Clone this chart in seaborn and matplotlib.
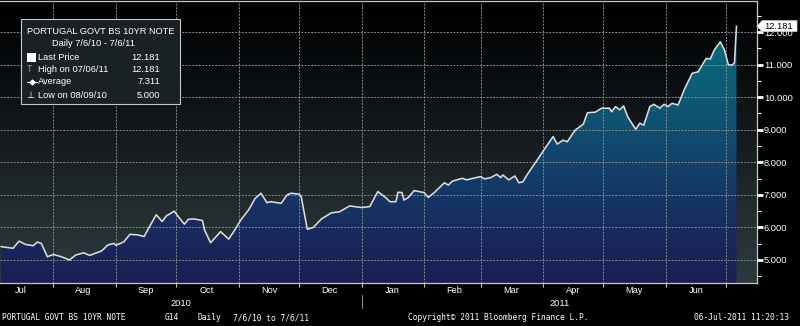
import numpy as np
import pandas as pd
import matplotlib
matplotlib.use("Agg")
import matplotlib.pyplot as plt
import matplotlib.transforms as mtransforms
from matplotlib.colors import LinearSegmentedColormap
from matplotlib.patches import Polygon, Rectangle
from matplotlib.lines import Line2D
import seaborn as sns

# ---- data -------------------------------------------------------------
start_date = "2010-07-06"
day_offset = [0, 6, 9, 12, 16, 18, 20, 23, 26, 30,
              34, 37, 41, 44, 50, 53, 56, 57, 61, 64,
              68, 71, 77, 80, 82, 86, 88, 91, 93, 96,
              100, 101, 104, 109, 113, 116, 119, 123, 126, 129,
              132, 134, 139, 142, 144, 148, 149, 152, 155, 159,
              164, 168, 173, 179, 183, 187, 191, 193, 196, 197,
              199, 200, 202, 205, 210, 212, 215, 220, 222, 224,
              229, 231, 238, 240, 243, 246, 248, 249, 252, 255,
              257, 259, 261, 265, 270, 274, 276, 279, 281, 285,
              289, 291, 295, 298, 302, 303, 305, 307, 309, 311,
              315, 317, 319, 322, 324, 327, 329, 331, 333, 336,
              339, 343, 346, 348, 350, 352, 354, 357, 359, 361,
              363, 364, 365]
yield_pct = [5.41, 5.36, 5.58, 5.48, 5.44, 5.55, 5.51, 5.10, 5.17, 5.10,
             5.00, 5.15, 5.22, 5.14, 5.28, 5.46, 5.51, 5.45, 5.56, 5.79,
             5.77, 5.72, 6.39, 6.18, 6.35, 6.50, 6.33, 6.10, 6.25, 6.26,
             6.21, 5.92, 5.53, 5.87, 5.64, 5.92, 6.23, 6.55, 6.88, 7.05,
             6.76, 6.79, 6.74, 7.00, 7.05, 7.02, 6.94, 5.94, 6.00, 6.26,
             6.45, 6.48, 6.66, 6.61, 6.64, 7.10, 6.91, 6.79, 6.79, 7.08,
             7.07, 6.84, 6.91, 7.13, 7.07, 6.92, 7.07, 7.37, 7.30, 7.42,
             7.51, 7.46, 7.56, 7.49, 7.53, 7.63, 7.53, 7.61, 7.46, 7.58,
             7.37, 7.40, 7.61, 7.97, 8.43, 8.79, 8.56, 8.68, 8.63, 8.99,
             9.17, 9.52, 9.54, 9.66, 9.66, 9.55, 9.71, 9.61, 9.73, 9.40,
             9.01, 9.20, 9.14, 9.71, 9.78, 9.66, 9.78, 9.71, 9.81, 9.76,
             10.22, 10.73, 10.78, 10.99, 11.19, 11.17, 11.45, 11.70, 11.45, 10.99,
             10.99, 11.06, 12.181]
month_labels = ["Jul", "Aug", "Sep", "Oct", "Nov", "Dec",
                "Jan", "Feb", "Mar", "Apr", "May", "Jun"]
year_labels = ["2010", "2011"]
y_ticks = [5, 6, 7, 8, 9, 10, 11, 12]
security = "PORTUGAL GOVT BS 10YR NOTE"
average_value = 7.311

# ---- styling ----------------------------------------------------------
sns.set_theme(style="dark")
plt.rcParams["font.family"] = ["Liberation Sans", "DejaVu Sans"]
FS = 6.7
MONO = ["DejaVu Sans Mono"]

dates = pd.Timestamp(start_date) + pd.to_timedelta(day_offset, unit="D")
df = pd.DataFrame({"date": dates, "yield": yield_pct})

W, H = 800, 326
fig = plt.figure(figsize=(W / 100, H / 100), dpi=100, facecolor="black")
ax = fig.add_axes([0, 43 / H, 757 / W, 282 / H])
ax.set_facecolor("black")

def fx(px):
    return px / W

def fy(py):
    return 1 - py / H

# axis ranges
px_per_unit = 32.57
ymin = 5 - (283 - 260) / px_per_unit
ymax = 12 + (32 - 1) / px_per_unit
px_per_day = 2.015
t0 = pd.Timestamp(start_date) - pd.Timedelta(days=0.5)
t1 = t0 + pd.Timedelta(days=757 / px_per_day)
x0n, x1n = matplotlib.dates.date2num(t0), matplotlib.dates.date2num(t1)
ax.set_xlim(t0, t1)
ax.set_ylim(ymin, ymax)

# background gradient (black at top, slate grey at bottom)
bg_cmap = LinearSegmentedColormap.from_list(
    "bg", [(0.0, "#2c3a3d"), (0.25, "#232d30"), (0.45, "#181f23"),
           (0.7, "#0b0f12"), (0.9, "#030405"), (1.0, "#000000")])
grad = np.linspace(0, 1, 256).reshape(-1, 1)
ax.imshow(grad, cmap=bg_cmap, extent=[x0n, x1n, ymin, ymax], origin="lower",
          aspect="auto", zorder=0, interpolation="bilinear")

# area under the price line, navy to teal
fill_cmap = LinearSegmentedColormap.from_list(
    "fill", [(0.0, "#1b1f55"), (0.2, "#172a5e"), (0.4, "#133c68"),
             (0.6, "#0f5070"), (0.8, "#0b6177"), (1.0, "#07707f")])
fb = ax.fill_between(df["date"], df["yield"], ymin, facecolor="none",
                     edgecolor="none", zorder=1)
im = ax.imshow(grad, cmap=fill_cmap, extent=[x0n, x1n, ymin, 12.3],
               origin="lower", aspect="auto", zorder=1, interpolation="bilinear")
im.set_clip_path(fb.get_paths()[0], transform=ax.transData)
ax.set_xlim(t0, t1)
ax.set_ylim(ymin, ymax)

# price line
sns.lineplot(data=df, x="date", y="yield", ax=ax, color="#dcdcdc",
             linewidth=1.15, zorder=5, legend=False)
ax.set_xlabel("")
ax.set_ylabel("")

# grid and ticks
month_starts = pd.date_range("2010-08-01", "2011-07-01", freq="MS")
label_dates = pd.date_range("2010-07-01", periods=12, freq="MS") + pd.Timedelta(days=15)
ax.set_xticks(month_starts)
ax.set_xticklabels([])
ax.set_xticks(label_dates, labels=month_labels, minor=True)
ax.yaxis.tick_right()
ax.set_yticks(y_ticks, labels=[f"{v:.3f}" for v in y_ticks])
ax.set_yticks([v + 0.5 for v in [4] + y_ticks], minor=True)
ax.set_axisbelow(False)
ax.grid(True, which="major", color="#8a8a8a", linestyle=(0, (2, 1.4)),
        linewidth=0.7)
ax.grid(False, which="minor")
ax.tick_params(axis="y", which="major", direction="out", length=4, width=2,
               color="white", labelcolor="white", labelsize=FS, pad=1,
               right=True, left=False)
ax.tick_params(axis="y", which="minor", direction="out", length=3, width=0.8,
               color="white", right=True, left=False)
ax.tick_params(axis="x", which="major", direction="out", length=3, width=0.8,
               color="#c8c8c8", bottom=True)
ax.tick_params(axis="x", which="minor", length=0, labelcolor="white",
               labelsize=FS, pad=2.2)
for s in ["bottom", "right", "top"]:
    ax.spines[s].set_color("#c8c8c8")
    ax.spines[s].set_linewidth(0.9)
    ax.spines[s].set_visible(True)
ax.spines["left"].set_visible(False)

# year row under the months
xfig = mtransforms.blended_transform_factory(ax.transData, fig.transFigure)
jan1 = matplotlib.dates.date2num(pd.Timestamp("2011-01-01"))
ax_year_centres = [(x0n + jan1) / 2, (jan1 + x1n) / 2]
for lbl, xc in zip(year_labels, ax_year_centres):
    fig.text(xc, fy(303), lbl, transform=xfig, ha="center", va="center",
             color="white", fontsize=FS)
fig.add_artist(Line2D([jan1, jan1], [fy(295), fy(308)], transform=xfig,
                      color="#8a8a8a", linewidth=0.8))

# last-price tag on the right axis
last = yield_pct[-1]
yf = mtransforms.blended_transform_factory(fig.transFigure, ax.transData)
dh = 5.5 / px_per_unit
tag = Polygon([(fx(757), last), (fx(762), last + dh), (fx(797), last + dh),
               (fx(797), last - dh), (fx(762), last - dh)], closed=True,
              transform=yf, facecolor="white", edgecolor="#cccccc", lw=0.5,
              zorder=20)
fig.add_artist(tag)
fig.text(fx(764), last, f"{last:.3f}", transform=yf, ha="left", va="center",
         color="black", fontsize=FS, zorder=21)

# info box in the top-left corner
fig.add_artist(Rectangle((fx(21), fy(104)), 159 / W, 85 / H,
                         transform=fig.transFigure, facecolor="#1a2125",
                         edgecolor="#c8c8c8", lw=0.8, zorder=10))
tkw = dict(color="white", fontsize=FS, va="center", zorder=11)
fig.text(fx(101), fy(32), security, ha="center", **tkw)
fig.text(fx(94), fy(44), "Daily 7/6/10 - 7/6/11", ha="center", **tkw)
rows = [("Last Price", f"{last:.3f}", 57),
        ("High on 07/06/11", f"{max(yield_pct):.3f}", 70),
        ("Average", f"{average_value:.3f}", 82),
        ("Low on 08/09/10", f"{min(yield_pct):.3f}", 95)]
for name, val, py in rows:
    fig.text(fx(38), fy(py), name, ha="left", **tkw)
    fig.text(fx(160), fy(py), val, ha="right", **tkw)
fig.add_artist(Rectangle((fx(27), fy(61.5)), 9 / W, 9 / H,
                         transform=fig.transFigure, facecolor="white",
                         edgecolor="none", zorder=11))
fig.text(fx(30), fy(70), "T", ha="center", family=["DejaVu Sans"],
         fontweight="light", **tkw)
fig.add_artist(Line2D([fx(27), fx(37)], [fy(82), fy(82)],
                      transform=fig.transFigure, color="white", lw=0.8,
                      zorder=11))
fig.add_artist(Line2D([fx(32)], [fy(82)], transform=fig.transFigure,
                      marker="D", markersize=2.5, color="white", lw=0,
                      zorder=11))
fig.text(fx(30.5), fy(95), "\u22a5", ha="center", family=["DejaVu Sans"],
         **tkw)

# footer line
fkw = dict(color="white", fontsize=5.7, va="center", family=MONO)
fig.text(fx(2), fy(318), security, ha="left", **fkw)
fig.text(fx(165), fy(318), "G14", ha="left", **fkw)
fig.text(fx(198), fy(318), "Daily", ha="left", **fkw)
fig.text(fx(233), fy(318), "7/6/10 to 7/6/11", ha="left", **fkw)
fig.text(fx(408), fy(318), "Copyright\u00a9 2011 Bloomberg Finance L.P.",
         ha="left", **fkw)
fig.text(fx(789), fy(318), "06-Jul-2011 11:20:13", ha="right", **fkw)

fig.savefig("out.png", dpi=100, facecolor="black")
